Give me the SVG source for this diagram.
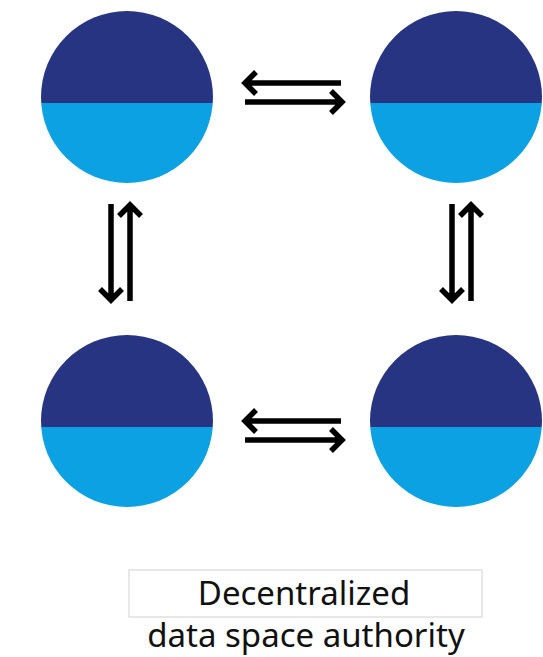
<svg xmlns="http://www.w3.org/2000/svg" width="543" height="657" viewBox="0 0 543 657">
  <style>
    .top { fill: #273481; }
    .bottom { fill: #0ba1e2; }
    .arrow { fill: none; stroke: #000; stroke-width: 5.5; stroke-linejoin: miter; stroke-linecap: butt; }
    .label { font-family: "Noto Sans", "Open Sans", sans-serif; font-size: 33px; fill: #111; text-anchor: middle; }
  </style>
  <defs>
    <clipPath id="disc">
      <circle cx="0" cy="0" r="86"/>
    </clipPath>
    <g id="node-disc">
      <g clip-path="url(#disc)">
        <rect class="top" x="-87" y="-87" width="174" height="93"/>
        <rect class="bottom" x="-87" y="6" width="174" height="81"/>
      </g>
    </g>
  </defs>
  <rect width="543" height="657" fill="#fff"/>

  <g id="node-top-left"><use href="#node-disc" x="127" y="97"/></g>
  <g id="node-top-right"><use href="#node-disc" x="456" y="97"/></g>
  <g id="node-bottom-left"><use href="#node-disc" x="127" y="421"/></g>
  <g id="node-bottom-right"><use href="#node-disc" x="456" y="421"/></g>

  <g id="connectors" class="arrow">
    <!-- top pair -->
    <path d="M341 83 H245 M256 72 L245 83 L256 94"/>
    <path d="M245 102 H342 M331 91 L342 102 L331 113"/>
    <!-- bottom pair -->
    <path d="M341 421 H245 M256 410 L245 421 L256 432"/>
    <path d="M245 440 H342 M331 429 L342 440 L331 451"/>
    <!-- left pair -->
    <path d="M111 204 V300 M100 289 L111 300 L122 289"/>
    <path d="M130 301 V205 M119 216 L130 205 L141 216"/>
    <!-- right pair -->
    <path d="M452 204 V300 M441 289 L452 300 L463 289"/>
    <path d="M471 301 V205 M460 216 L471 205 L482 216"/>
  </g>

  <g id="legend">
    <rect x="129" y="570" width="353" height="47" fill="#fff" stroke="#d0d0d0" stroke-width="1"/>
    <text class="label" x="304" y="605">Decentralized</text>
    <text class="label" x="306" y="647">data space authority</text>
  </g>
</svg>
